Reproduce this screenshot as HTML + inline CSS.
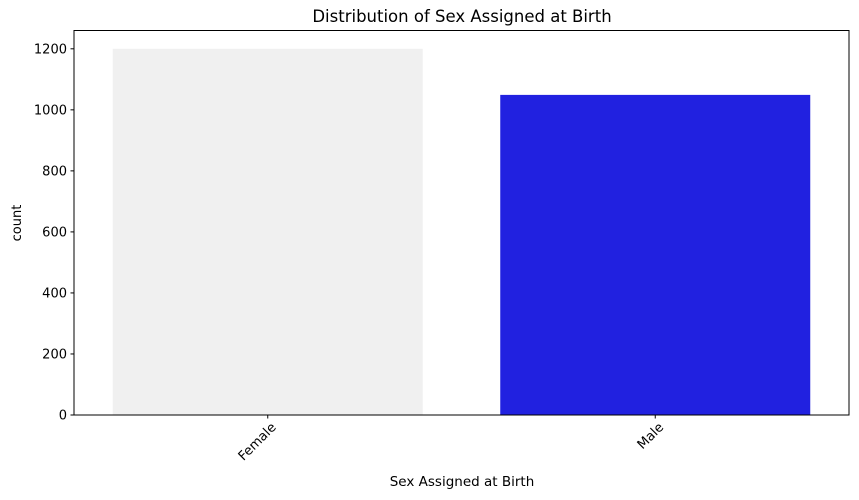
<!DOCTYPE html>
<html><head><meta charset="utf-8"><style>
body{margin:0;background:#fff;}
svg{display:block;font-family:"DejaVu Sans","Liberation Sans",sans-serif;}
</style></head><body>
<svg id="chart" width="859" height="500">
<text x="462" y="22" text-anchor="middle" font-size="16.5">Distribution of Sex Assigned at Birth</text>
<g id="bars"></g>
<g id="yticks"></g>
<g id="xticks"></g>
<rect x="74" y="30.5" width="775" height="384.5" fill="none" stroke="#000" stroke-width="1"/>
<text x="462" y="486" text-anchor="middle" font-size="13.5">Sex Assigned at Birth</text>
<text transform="translate(21,223) rotate(-90)" text-anchor="middle" font-size="13">count</text>
</svg>
<script>
const categories=["Female","Male"];
const counts=[1200,1049];
const barColors=["#f0f0f0","#2121e0"];
const yTicks=[0,200,400,600,800,1000,1200];
const L=74,R=849,B=415,T=30.5,yMax=1260;
const NS="http://www.w3.org/2000/svg";
function y(v){return B-(v/yMax)*(B-T);}
function x(i){return L+(i+0.5)/categories.length*(R-L);}
const band=(R-L)/categories.length*0.8;
function mk(t,a,p){const e=document.createElementNS(NS,t);for(const k in a)e.setAttribute(k,a[k]);p.appendChild(e);return e;}
const gb=document.getElementById('bars');
categories.forEach((c,i)=>{
 const r=mk('rect',{x:x(i)-band/2,y:y(counts[i]),width:band,height:B-y(counts[i]),fill:barColors[i]},gb);
 
 
});
const gy=document.getElementById('yticks');
yTicks.forEach(v=>{
 mk('line',{x1:L-3.5,x2:L,y1:y(v),y2:y(v),stroke:'#000'},gy);
 const t=mk('text',{x:L-7,y:y(v)+4.5,'text-anchor':'end','font-size':'13'},gy);
 t.textContent=v;
 
 
});
const gx=document.getElementById('xticks');
categories.forEach((c,i)=>{
 mk('line',{x1:x(i),x2:x(i),y1:B,y2:B+3.5,stroke:'#000'},gx);
 const t=mk('text',{transform:`translate(${x(i)+9},${B+13}) rotate(-45)`,'text-anchor':'end','font-size':'13'},gx);
 t.textContent=c;
 
 
});
</script>
</body></html>
